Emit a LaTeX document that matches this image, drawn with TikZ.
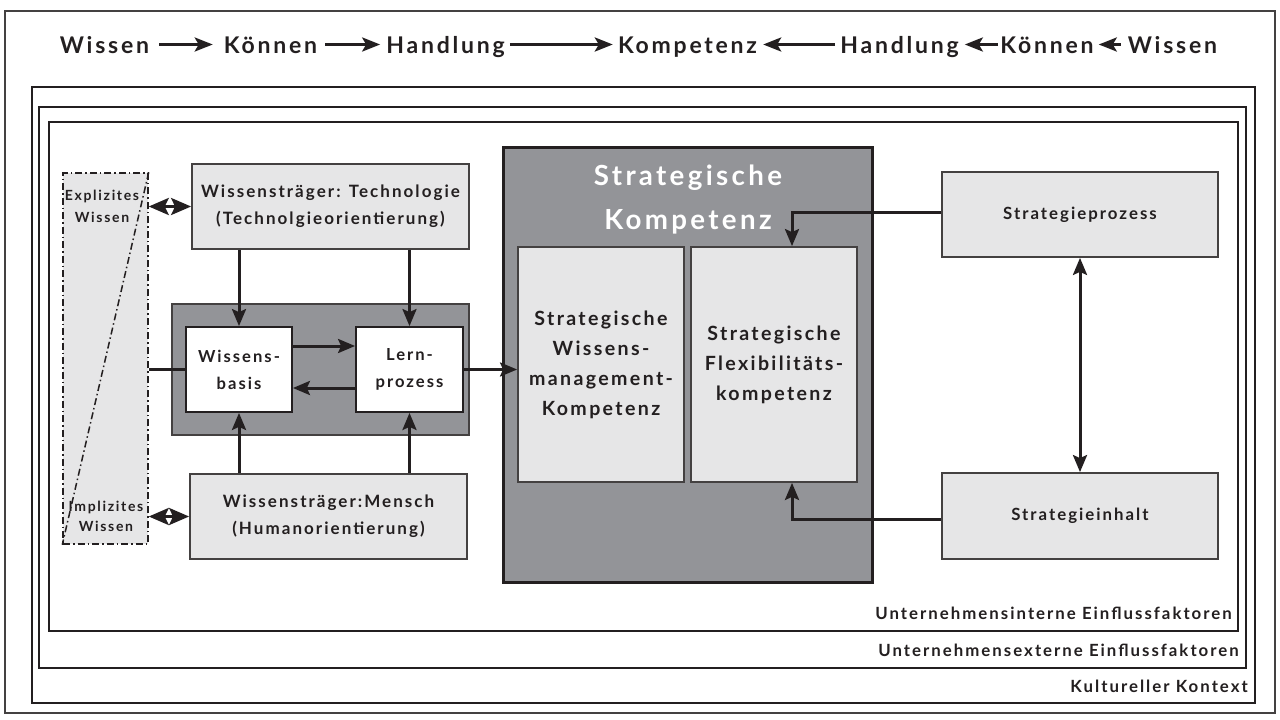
\documentclass[tikz,border=0pt]{standalone}
\usepackage{fontspec}
\setmainfont{Lato}[LetterSpace=12]
\usetikzlibrary{arrows.meta}
\definecolor{ink}{HTML}{231F20}
\definecolor{pale}{HTML}{E6E6E7}
\definecolor{slate}{HTML}{939498}
\newcommand{\fsz}[2]{\fontsize{#1}{#2}\selectfont\bfseries}

\begin{document}
\begin{tikzpicture}[x=1pt,y=-1pt,
  every node/.style={text=ink},
  frame/.style={draw=ink!85, line width=1.5pt},
  headword/.style={font=\fsz{23}{27}, inner sep=0pt, text height=17pt, text depth=0pt},
  palebox/.style={draw=ink!85, line width=1.8pt, fill=pale, inner sep=0pt, align=center, font=\fsz{17}{27}},
  whitebox/.style={draw=ink, line width=1.8pt, fill=white, inner sep=0pt, align=center, font=\fsz{16.6}{27}},
  innerbox/.style={draw=ink!85, line width=1.8pt, fill=pale, inner sep=0pt, align=center, font=\fsz{19.6}{30}},
  conn/.style={draw=ink, line width=3pt, -{Stealth[length=17pt,width=14pt,inset=3pt]}},
  both/.style={draw=ink, line width=3pt, {Stealth[length=17pt,width=14pt,inset=3pt]}-{Stealth[length=17pt,width=14pt,inset=3pt]}},
  shortboth/.style={draw=ink, line width=3pt, {Stealth[length=20pt,width=17pt,inset=4pt]}-{Stealth[length=20pt,width=17pt,inset=4pt]}},
  plain/.style={draw=ink, line width=3pt},
  headarrow/.style={draw=ink, line width=3pt, -{Stealth[length=18pt,width=14pt,inset=4pt]}},
  framelabel/.style={font=\fsz{16.8}{20}, anchor=east, inner sep=0pt},
  dashdot/.style={dash pattern=on 7pt off 3pt on 1.5pt off 3pt}
]
\useasboundingbox (0,0) rectangle (1280,720);

% outer frame and context frames
\draw[frame] (5,11) rectangle (1275,713);
\node[draw=ink, line width=1.5pt, minimum width=1223, minimum height=616, inner sep=0pt] (kultur) at (643.5,395) {};
\node[draw=ink, line width=1.5pt, minimum width=1207, minimum height=561, inner sep=0pt] (extern) at (642.5,387.5) {};
\node[draw=ink, line width=1.5pt, minimum width=1189, minimum height=509, inner sep=0pt] (intern) at (643.5,376.5) {};
\node[framelabel] (lint) at (1232,613) {Unternehmensinterne Einflussfaktoren};
\node[framelabel] (lext) at (1239,650) {Unternehmensexterne Einflussfaktoren};
\node[framelabel] (lkul) at (1248,686) {Kultureller Kontext};

% header line
\node[headword] (h1) at (104.5,44.5) {Wissen};
\node[headword] (h2) at (270.5,44.5) {Können};
\node[headword] (h3) at (445.5,44.5) {Handlung};
\node[headword] (h4) at (687.5,44.5) {Kompetenz};
\node[headword] (h5) at (899.5,44.5) {Handlung};
\node[headword] (h6) at (1047,44.5) {Können};
\node[headword] (h7) at (1172.5,44.5) {Wissen};
\draw[headarrow, shorten <=10pt, shorten >=11pt] (h1.east) -- (h2.west);
\draw[headarrow, shorten <=8pt, shorten >=6pt] (h2.east) -- (h3.west);
\draw[headarrow, shorten <=5pt, shorten >=5pt] (h3.east) -- (h4.west);
\draw[headarrow, shorten <=5pt, shorten >=6pt] (h5.west) -- (h4.east);
\draw[headarrow, shorten <=2pt, shorten >=6pt] (h6.west) -- (h5.east);
\draw[headarrow, shorten <=7pt, shorten >=5pt] (h7.west) -- (h6.east);

% knowledge side
\node[draw=ink, line width=1.5pt, dashdot, fill=pale, minimum width=85, minimum height=371, inner sep=0pt] (dash) at (105.5,358.5) {};
\draw[ink, line width=1.5pt, dashdot] (dash.north east) -- (dash.south west);
\node[align=center, inner sep=0pt, font=\fsz{14}{22}] (expl) at (102,206) {Explizites\\Wissen};
\node[align=center, inner sep=0pt, font=\fsz{14}{20}] (impl) at (106,516) {Implizites\\Wissen};

\node[palebox, minimum width=277, minimum height=85] (tech) at (330.5,206.5) {Wissensträger: Technologie\\(Technolgieorientierung)};
\node[palebox, minimum width=277, minimum height=85] (mensch) at (328.5,516.5) {Wissensträger:Mensch\\(Humanorientierung)};

\node[draw=ink!85, line width=1.8pt, fill=slate, minimum width=297, minimum height=131, inner sep=0pt] (lern) at (320.5,369.5) {};
\node[whitebox, minimum width=106, minimum height=85] (wbasis) at (239,369.5) {Wissens-\\basis};
\node[whitebox, minimum width=107, minimum height=85] (lproz) at (409.5,369.5) {Lern-\\prozess};

\draw[conn] (tech.south -| wbasis.north) -- (wbasis.north);
\draw[conn] (tech.south -| lproz.north) -- (lproz.north);
\draw[conn] (mensch.north -| wbasis.south) -- (wbasis.south);
\draw[conn] (mensch.north -| lproz.south) -- (lproz.south);
\draw[conn] ([yshift=23.5pt]wbasis.east) -- ([yshift=23.5pt]wbasis.east -| lproz.west);
\draw[conn] ([yshift=-18.5pt]lproz.west) -- ([yshift=-18.5pt]lproz.west -| wbasis.east);
\draw[plain] (dash.east |- wbasis.west) -- (wbasis.west);
\draw[shortboth] (dash.east |- tech.west) -- (tech.west);
\draw[shortboth] (dash.east |- mensch.west) -- (mensch.west);

% strategic competence
\node[draw=ink, line width=3pt, fill=slate, minimum width=369, minimum height=435, inner sep=0pt] (sk) at (687.5,364.5) {};
\node[text=white, align=center, inner sep=0pt, font=\fsz{27.7}{44}] (sktitle) at (688,200) {Strategische\\Kompetenz};
\node[innerbox, minimum width=166, minimum height=235] (wmk) at (601,364.5) {Strategische\\Wissens-\\management-\\Kompetenz};
\node[innerbox, minimum width=166, minimum height=235] (flex) at (774,364.5) {Strategische\\Flexibilitäts-\\kompetenz};
\draw[conn] (lproz.east) -- (lproz.east -| wmk.west);

% strategy process and content
\node[palebox, font=\fsz{16.8}{20}, minimum width=276, minimum height=85] (sproz) at (1080,214.5) {Strategieprozess};
\node[palebox, font=\fsz{16.8}{20}, minimum width=276, minimum height=86] (sinh) at (1080,516) {Strategieinhalt};
\draw[both] (sproz.south) -- (sinh.north);
\draw[conn] ([yshift=2.5pt]sproz.west) -| ([xshift=18pt]flex.north);
\draw[conn] ([yshift=-3pt]sinh.west) -| ([xshift=18pt]flex.south);
\end{tikzpicture}
\end{document}
